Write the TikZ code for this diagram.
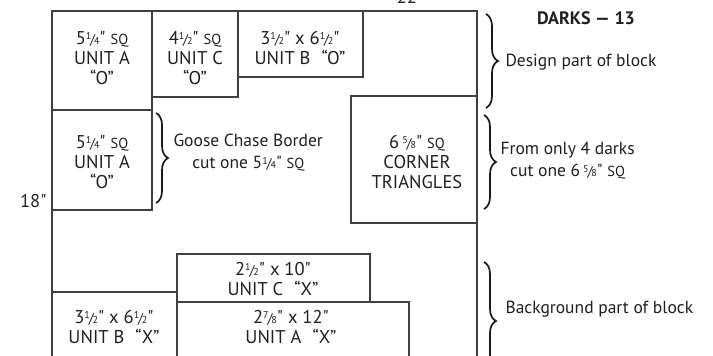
\documentclass[tikz,border=0pt]{standalone}
\usepackage{fontspec}
\setmainfont{PT Sans}
\newfontfamily\plainfont{PT Sans}
\usetikzlibrary{decorations.pathreplacing}

% small stacked fraction, the small "SQ" and a straight inch mark
\newcommand{\frc}[2]{\raisebox{0.55ex}{\fontsize{10}{10}\selectfont#1}\kern-0.06em{\fontsize{14}{14}\selectfont/}\kern-0.06em{\fontsize{10}{10}\selectfont#2}}
\newcommand{\sqr}{{\fontsize{14.5}{14.5}\selectfont SQ}}
\newcommand{\inch}{{\plainfont"}}

\tikzset{
  piece/.style={draw=black!75, line width=1.2pt},
  cuttext/.style={align=center, text=black!88, font=\fontsize{18.5}{20}\selectfont},
  note/.style={align=left, anchor=west, text=black!88, font=\fontsize{17.5}{22}\selectfont},
  curly/.style={decorate, decoration={brace, amplitude=12pt}, line width=1.7pt, black!90}
}

\begin{document}
\begin{tikzpicture}[x=1pt, y=-1pt]
  \useasboundingbox (0,0) rectangle (713,356);
  \clip (0,0) rectangle (713,356);

  % the whole block, cut off at the bottom
  \draw[piece] (52,400) -- (52,11) -- (477,11) -- (477,400);
  \node[cuttext, anchor=base] (width) at (410,4) {22\inch};
  \node[cuttext, anchor=east] (height) at (50,201) {18\inch};

  % design part
  \draw[piece] (52,11) rectangle (152,110);
  \node[cuttext] (unitAo) at (102,58) {5\frc14\inch\ \sqr\\UNIT A\\“O”};
  \draw[piece] (152,11) rectangle (238,97);
  \node[cuttext] (unitCo) at (195,58) {4\frc12\inch\ \sqr\\UNIT C\\“O”};
  \draw[piece] (238,11) rectangle (363,77);
  \node[cuttext] (unitBo) at (300,48) {3\frc12\inch\ x 6\frc12\inch\\UNIT B\hspace{0.6em}“O”};

  % goose chase border and corners
  \draw[piece] (52,110) rectangle (152,210);
  \node[cuttext] (goose) at (102,162) {5\frc14\inch\ \sqr\\UNIT A\\“O”};
  \draw[piece] (351,96) rectangle (477,223);
  \node[cuttext] (corner) at (417,162) {6\,\frc58\inch\ \sqr\\CORNER\\TRIANGLES};

  % background part
  \draw[piece] (177,254) rectangle (370,302);
  \node[cuttext] (unitCx) at (273,279) {2\frc12\inch\ x 10\inch\\UNIT C\hspace{0.6em}“X”};
  \draw[piece] (52,292) rectangle (177,400);
  \node[cuttext] (unitBx) at (114,327) {3\frc12\inch\ x 6\frc12\inch\\UNIT B\hspace{0.6em}“X”};
  \draw[piece] (177,302) rectangle (409,400);
  \node[cuttext] (unitAx) at (291,327) {2\frc78\inch\ x 12\inch\\UNIT A\hspace{0.6em}“X”};

  % braces and notes
  \node[cuttext, font=\bfseries\fontsize{18}{18}\selectfont] (darks) at (586,18) {DARKS — 13};
  \draw[curly] (486,14) -- (486,108);
  \node[note] (design) at (502,62) {Design part of block};
  \draw[curly] (156,113) -- (156,203);
  \node[note, align=center] (goosenote) at (170,153) {Goose Chase Border\\cut one 5\frc14\inch\ \sqr};
  \draw[curly] (484,115) -- (484,209);
  \node[note, align=center] (fromfour) at (497,161) {From only 4 darks\\cut one 6\,\frc58\inch\ \sqr};
  \draw[curly] (484,262) -- (484,380);
  \node[note] (backgr) at (502,309) {Background part of block};
\end{tikzpicture}
\end{document}
